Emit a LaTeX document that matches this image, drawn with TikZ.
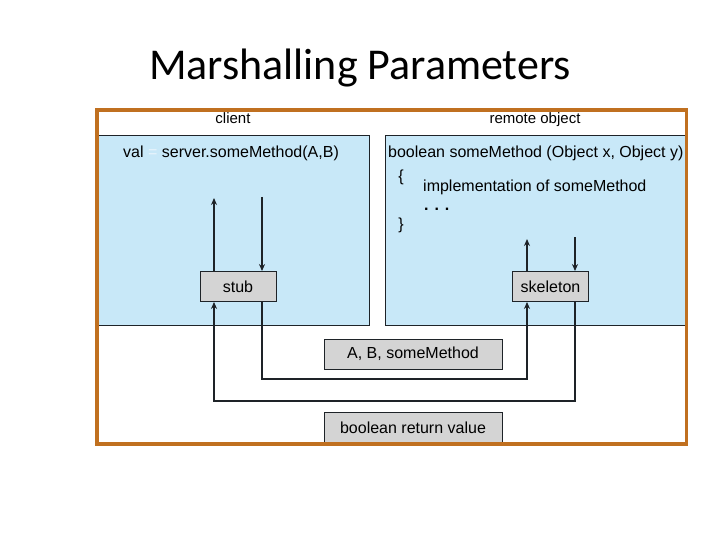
\documentclass[tikz,border=0pt]{standalone}
\usepackage{fontspec}
\setmainfont{Liberation Sans}
\newfontfamily\titlefont{Carlito}
\usetikzlibrary{arrows.meta}
\definecolor{frameorange}{RGB}{192,112,32}
\definecolor{panelblue}{RGB}{200,232,248}
\definecolor{boxgray}{RGB}{212,212,212}
\definecolor{linedark}{RGB}{30,35,40}
\definecolor{eqcol}{RGB}{232,244,252}
\begin{document}
\begin{tikzpicture}[x=1pt,y=-1pt,
  panel/.style={draw=linedark,line width=0.9pt,fill=panelblue},
  graybox/.style={draw=linedark,line width=0.9pt,fill=boxgray,minimum height=30pt,font=\fontsize{16}{18}\selectfont,inner sep=0pt},
  lbl/.style={font=\fontsize{16}{18}\selectfont,inner sep=0pt},
  small/.style={font=\fontsize{15}{17}\selectfont,inner sep=0pt,anchor=base},
  conn/.style={draw=linedark,line width=1.6pt},
  arr/.style={conn,-{Stealth[length=7pt,width=6pt]}}]
\useasboundingbox (0,0) rectangle (720,540);
\fill[white] (0,0) rectangle (720,540);
% title
\node[font=\titlefont\fontsize{44}{48}\selectfont,anchor=base,inner sep=0pt] (title) at (360,80) {Marshalling Parameters};
% frame interior
\draw[linedark,line width=0.8pt] (97,110) rectangle (685,444);
% panels
\path[panel] (97,135) rectangle (369,325);
\path[panel] (385,135) rectangle (685,325);
% headers
\node[small] (client) at (233,124) {client};
\node[small] (remote) at (535,124) {remote object};
% client code
\node[lbl,anchor=west] (call) at (123,153) {val \textcolor{eqcol}{=} server.someMethod(A,B)};
% remote code
\node[lbl,anchor=west] (decl) at (388,153) {boolean someMethod (Object x, Object y)};
\node[lbl] (lbrace) at (401,177) {\{};
\node[lbl,anchor=west] (impl) at (423,187) {implementation of someMethod};
\node[lbl,anchor=west,font=\bfseries\fontsize{16}{18}\selectfont] (dots) at (424,209) {. . .};
\node[lbl] (rbrace) at (401,225) {\}};
% stub and skeleton
\node[graybox,minimum width=76pt] (stub) at (238,286.5) {stub};
\node[graybox,minimum width=76pt] (skel) at (550.5,286.5) {skeleton};
% message boxes
\node[graybox,minimum width=178pt] (msg) at (413,354) {A, B, someMethod};
\node[graybox,minimum width=178pt,minimum height=32pt] (ret) at (413,428) {boolean return value};
% coordinates
\coordinate (cu) at (214,198);
\coordinate (cd) at (262,197);
\coordinate (su) at (527,239);
\coordinate (sd) at (575,237);
% arrows in panels
\draw[arr] (stub.north -| cu) -- (cu);
\draw[arr] (cd) -- (stub.north -| cd);
\draw[arr] (skel.north -| su) -- (su);
\draw[arr] (sd) -- (skel.north -| sd);
% network paths
\draw[arr] (stub.south -| cd) -- (262,379) -- (527,379) -- (skel.south -| su);
\draw[arr] (skel.south -| sd) -- (575,401) -- (214,401) -- (stub.south -| cu);
% orange frame
\draw[frameorange,line width=3.8pt] (97,110) rectangle (686.5,444);
\end{tikzpicture}
\end{document}
